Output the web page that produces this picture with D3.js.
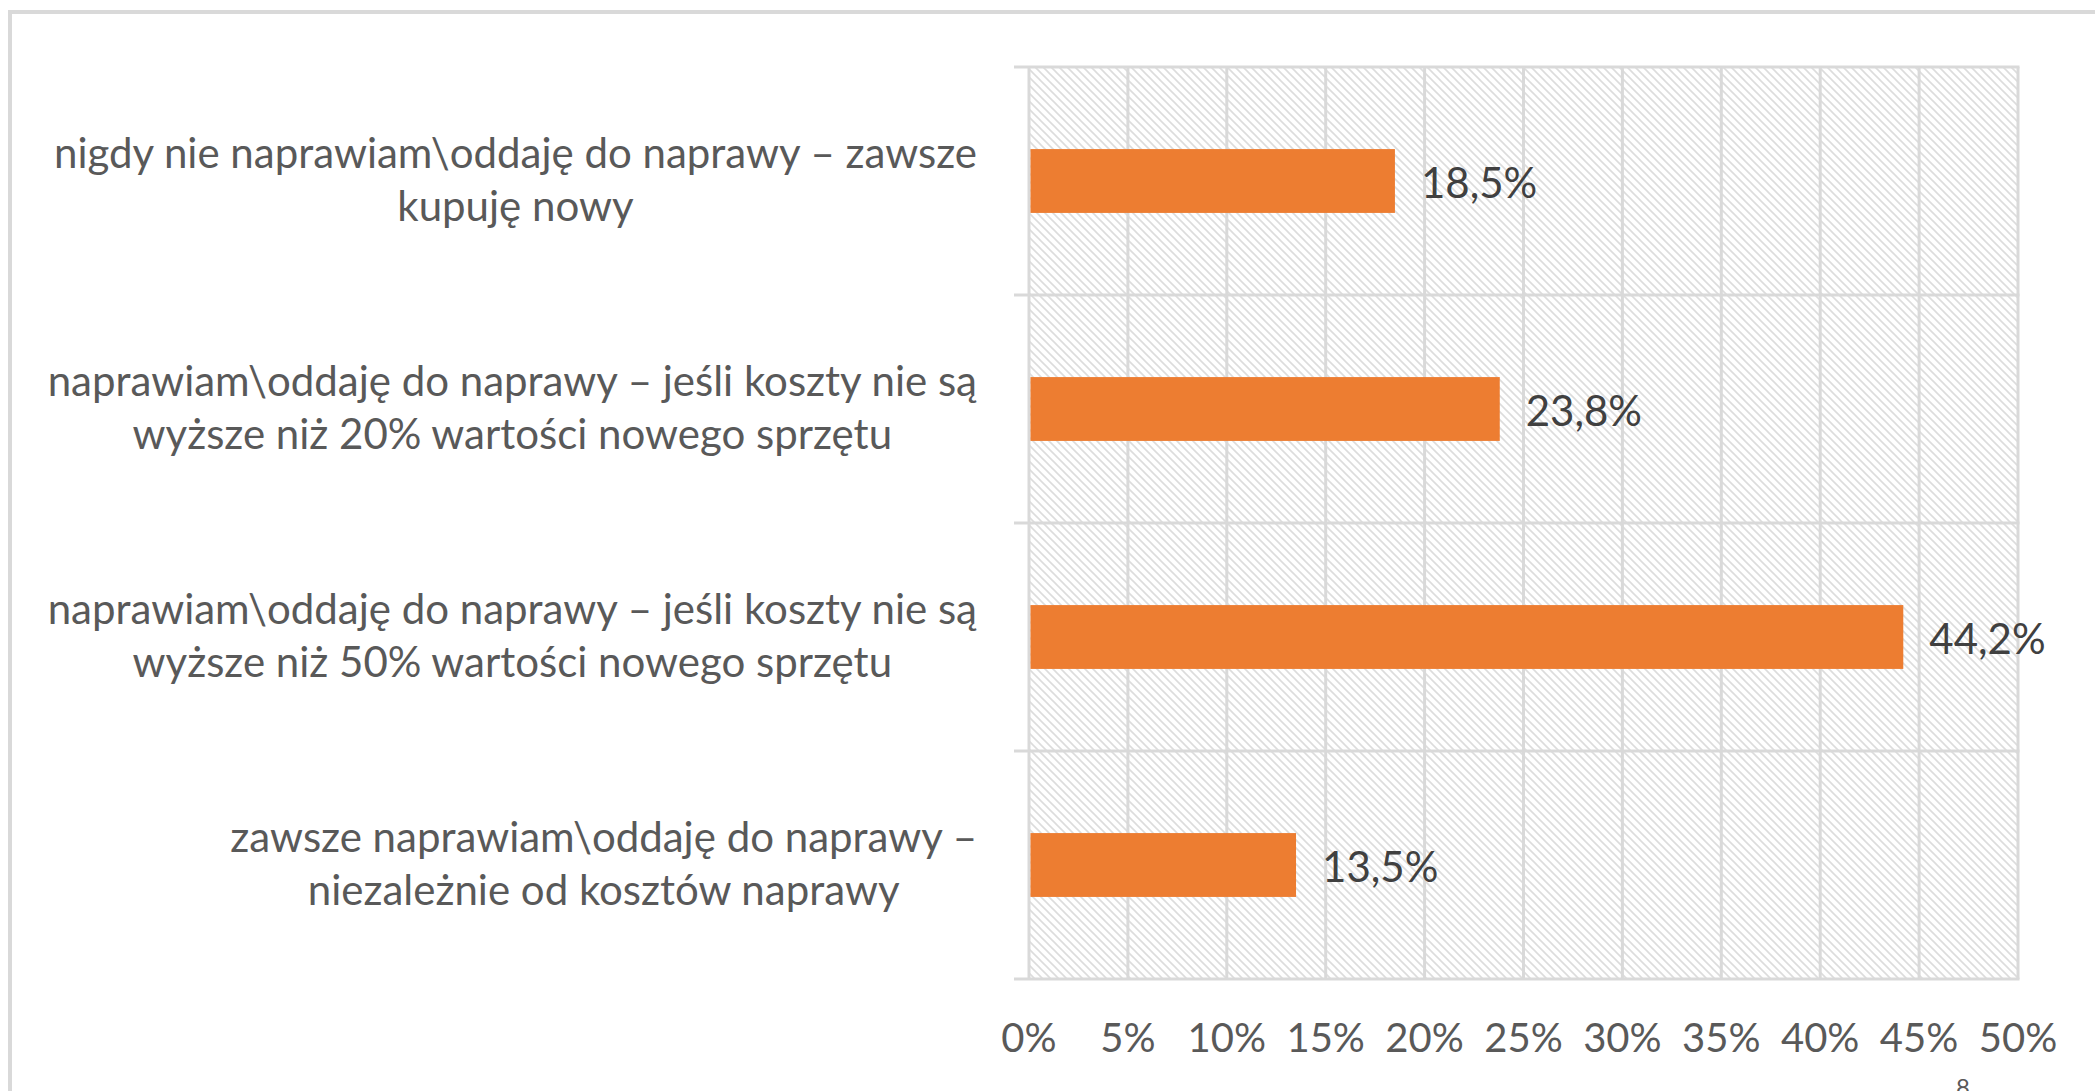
<!DOCTYPE html>
<html>
<head>
<meta charset="utf-8">
<script src="https://cdn.jsdelivr.net/npm/d3@7"></script>
<style>
  body { margin: 0; background: #fff; }
  svg text { font-family: Lato, "Open Sans", sans-serif; }
</style>
</head>
<body>
<div id="chart"></div>
<script>
// categories, top to bottom, each split into its two lines
const categories = [
    ["nigdy nie naprawiam\\oddaję do naprawy – zawsze", "kupuję nowy"],
    ["naprawiam\\oddaję do naprawy – jeśli koszty nie są", "wyższe niż 20% wartości nowego sprzętu"],
    ["naprawiam\\oddaję do naprawy – jeśli koszty nie są", "wyższe niż 50% wartości nowego sprzętu"],
    ["zawsze naprawiam\\oddaję do naprawy –", "niezależnie od kosztów naprawy"]
];
const values = [18.5, 23.8, 44.2, 13.5];
const ticks = [0, 5, 10, 15, 20, 25, 30, 35, 40, 45, 50];

const width = 2095, height = 1091;
const plot = { left: 1029, right: 2018, top: 67, bottom: 979 };

const svg = d3.select("#chart").append("svg")
    .attr("width", width)
    .attr("height", height);

// hatch pattern of the plot area
const defs = svg.append("defs");
const pat = defs.append("pattern")
    .attr("id", "hatch")
    .attr("patternUnits", "userSpaceOnUse")
    .attr("width", 8).attr("height", 8);
pat.append("rect").attr("width", 8).attr("height", 8).attr("fill", "#fff");
pat.append("path")
    .attr("d", "M-2,-2 L10,10 M-2,6 L2,10 M6,-2 L10,2")
    .attr("stroke", "#dcdcdc")
    .attr("stroke-width", 1.6);

// outer frame (top + left only visible)
svg.append("line").attr("x1", 8).attr("x2", width).attr("y1", 12).attr("y2", 12)
    .attr("stroke", "#d9d9d9").attr("stroke-width", 4);
svg.append("line").attr("x1", 10).attr("x2", 10).attr("y1", 10).attr("y2", height)
    .attr("stroke", "#d9d9d9").attr("stroke-width", 4);

const x = d3.scaleLinear().domain([0, 50]).range([plot.left, plot.right]);
const y = d3.scaleBand()
    .domain(d3.range(categories.length))
    .range([plot.top, plot.bottom])
    .paddingInner(0.72)
    .paddingOuter(0.36);
const band = d3.scaleBand()
    .domain(d3.range(categories.length))
    .range([plot.top, plot.bottom]);

svg.append("rect")
    .attr("x", plot.left).attr("y", plot.top)
    .attr("width", plot.right - plot.left).attr("height", plot.bottom - plot.top)
    .attr("fill", "url(#hatch)");

// vertical gridlines
svg.append("g").selectAll("line")
    .data(ticks)
    .join("line")
    .attr("x1", d => x(d)).attr("x2", d => x(d))
    .attr("y1", plot.top).attr("y2", plot.bottom)
    .attr("stroke", "#d9d9d9").attr("stroke-width", 3);

// horizontal category boundaries
const bounds = d3.range(categories.length + 1).map(i => i < categories.length ? band(i) : plot.bottom);
svg.append("g").selectAll("line")
    .data(bounds)
    .join("line")
    .attr("x1", plot.left - 15).attr("x2", plot.right + 1.5)
    .attr("y1", d => d).attr("y2", d => d)
    .attr("stroke", "#d9d9d9").attr("stroke-width", 3);

// x tick labels
svg.append("g").selectAll("text")
    .data(ticks)
    .join("text")
    .attr("x", d => x(d))
    .attr("y", 1052)
    .attr("text-anchor", "middle")
    .attr("font-size", 40)
    .attr("fill", "#595959")
    .text(d => d + "%");

// bars
svg.append("g").selectAll("rect")
    .data(values)
    .join("rect")
    .attr("x", x(0) + 1.5)
    .attr("y", (d, i) => y(i))
    .attr("width", d => x(d) - x(0) - 1.5)
    .attr("height", y.bandwidth())
    .attr("fill", "#ED7D31");

// data labels
svg.append("g").selectAll("text")
    .data(values)
    .join("text")
    .attr("x", d => x(d) + 26)
    .attr("y", (d, i) => y(i) + y.bandwidth() / 2 + 17)
    .attr("font-size", 42)
    .attr("fill", "#404040")
    .text(d => d.toFixed(1).replace(".", ",") + "%");

// category labels, block right-aligned, lines centered
const labelRight = 977;
categories.forEach((lines, i) => {
    const g = svg.append("g");
    const cy = band(i) + band.bandwidth() / 2;
    const texts = lines.map((t, j) => g.append("text")
        .attr("y", cy + (j === 0 ? -27 : 26) + 14)
        .attr("font-size", 42)
        .attr("fill", "#595959")
        .attr("text-anchor", "middle")
        .text(t));
    const maxW = d3.max(texts, t => t.node().getComputedTextLength());
    texts.forEach(t => t.attr("x", labelRight - maxW / 2));
});

// page number, cut off at bottom
svg.append("text")
    .attr("x", 1963).attr("y", 1096)
    .attr("text-anchor", "middle")
    .attr("font-size", 24)
    .attr("fill", "#595959")
    .text("8");
</script>
</body>
</html>
